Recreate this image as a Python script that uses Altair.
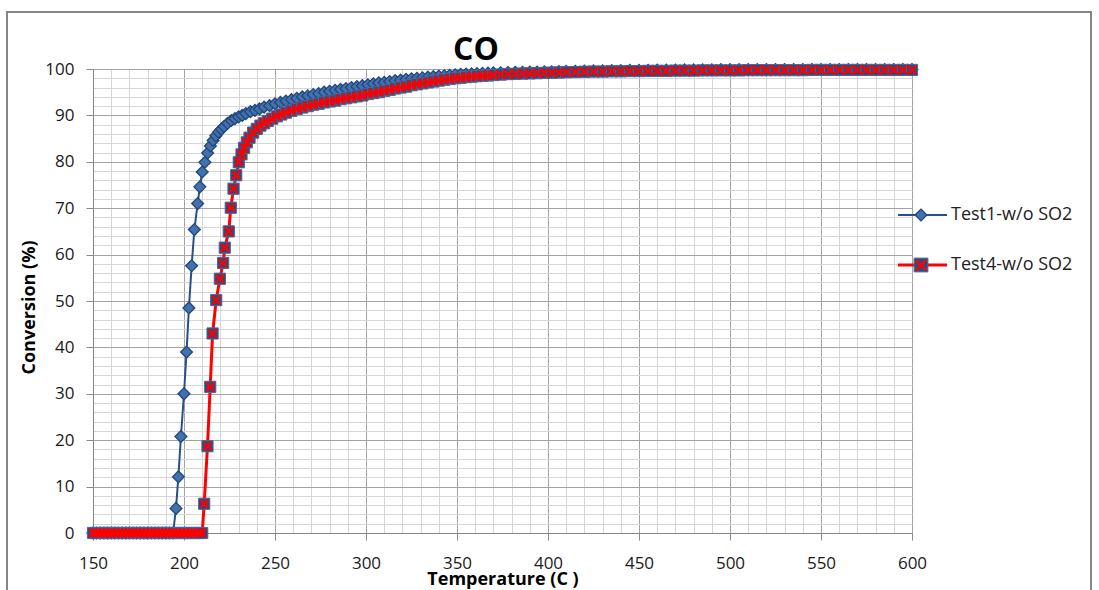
import altair as alt
import pandas as pd

SERIES = ["Test1-w/o SO2", "Test4-w/o SO2"]
TITLE = "CO"
X_TITLE = "Temperature (C )"
Y_TITLE = "Conversion (%)"

# ---- Test1 (blue diamonds) ----
T1 = [150, 152, 154, 156, 158, 160, 162, 164, 166, 168,
      170, 172, 174, 176, 178, 180, 182, 184, 186, 188,
      190, 192, 194,
      195.6, 196.9, 198.3, 200.0, 201.4, 202.7, 204.2, 205.7, 207.5, 208.7,
      210.0, 211.5, 213.0, 214.5, 216.0, 217.5, 219.0, 220.5, 222.0, 224.0,
      226.0, 228.0, 230.0, 232.0, 234.0, 236.5, 239.0, 241.5, 244.0, 247.0,
      250, 253, 256, 259, 262, 265, 268, 271, 274, 277,
      280, 283, 286, 289, 292, 295, 298, 301, 304, 307,
      310, 313, 316, 319, 322, 325, 328, 331, 334, 337,
      340, 343, 346, 349, 352, 355, 358, 361, 364, 367,
      370, 374, 378, 382, 386, 390, 394, 398, 402, 406,
      410, 415, 420, 425, 430, 435, 440, 445, 450, 455,
      460, 465, 470, 475, 480, 485, 490, 495, 500, 505,
      510, 515, 520, 525, 530, 535, 540, 545, 550, 555,
      560, 565, 570, 575, 580, 585, 590, 595, 600]
V1 = [0, 0, 0, 0, 0, 0, 0, 0, 0, 0,
      0, 0, 0, 0, 0, 0, 0, 0, 0, 0,
      0, 0, 0,
      5.3, 12.1, 20.8, 30.0, 39.0, 48.5, 57.6, 65.4, 71.0, 74.6,
      77.8, 79.9, 81.9, 83.4, 84.6, 85.6, 86.4, 87.0, 87.6, 88.3,
      88.9, 89.3, 89.7, 90.0, 90.4, 90.8, 91.1, 91.4, 91.8, 92.1,
      92.5, 92.8, 93.1, 93.4, 93.7, 94.0, 94.2, 94.5, 94.7, 95.0,
      95.2, 95.4, 95.6, 95.8, 96.0, 96.2, 96.4, 96.6, 96.8, 97.0,
      97.1, 97.3, 97.5, 97.6, 97.75, 97.9, 98.0, 98.1, 98.25, 98.35,
      98.45, 98.55, 98.65, 98.75, 98.85, 98.9, 98.95, 99.0, 99.05, 99.1,
      99.15, 99.2, 99.25, 99.3, 99.3, 99.35, 99.35, 99.4, 99.4, 99.45,
      99.5, 99.5, 99.55, 99.6, 99.6, 99.65, 99.65, 99.7, 99.7, 99.7,
      99.75, 99.75, 99.75, 99.8, 99.8, 99.8, 99.8, 99.85, 99.85, 99.85,
      99.85, 99.85, 99.85, 99.9, 99.9, 99.9, 99.9, 99.9, 99.9, 99.9,
      99.9, 99.9, 99.9, 99.9, 99.9, 99.9, 99.9, 99.9, 99.9]

# ---- Test4 (red line, squares with X) ----
T4 = [150, 152, 154, 156, 158, 160, 162, 164, 166, 168,
      170, 172, 174, 176, 178, 180, 182, 184, 186, 188,
      190, 192, 194, 196, 198, 200, 202, 204, 206, 208,
      210,
      211.1, 212.9, 214.4, 215.7, 217.7, 219.7, 221.5, 222.4, 224.6, 225.7,
      227.2, 228.7, 230.1, 231.6, 233.0, 234.5, 236.0, 238.0, 240.0, 242.0,
      244.0, 246.0, 248.5, 251.0, 253.5, 256.0, 259.0, 262.0, 265.0, 268.0,
      271, 274, 277, 280, 283, 286, 289, 292, 295, 298,
      301, 304, 307, 310, 313, 316, 319, 322, 325, 328,
      331, 334, 337, 340, 343, 346, 349, 352, 355, 358,
      361, 364, 367, 370, 374, 378, 382, 386, 390, 394,
      398, 402, 406, 410, 415, 420, 425, 430, 435, 440,
      445, 450, 455, 460, 465, 470, 475, 480, 485, 490,
      495, 500, 505, 510, 515, 520, 525, 530, 535, 540,
      545, 550, 555, 560, 565, 570, 575, 580, 585, 590, 595, 600]
V4 = [0, 0, 0, 0, 0, 0, 0, 0, 0, 0,
      0, 0, 0, 0, 0, 0, 0, 0, 0, 0,
      0, 0, 0, 0, 0, 0, 0, 0, 0, 0,
      0,
      6.3, 18.7, 31.5, 43.0, 50.2, 54.8, 58.2, 61.5, 65.0, 70.1,
      74.2, 77.1, 79.9, 81.6, 83.0, 84.2, 85.2, 86.3, 87.1, 87.8,
      88.3, 88.8, 89.3, 89.8, 90.2, 90.6, 91.0, 91.4, 91.7, 92.0,
      92.3, 92.5, 92.8, 93.0, 93.2, 93.5, 93.7, 93.9, 94.1, 94.3,
      94.6, 94.8, 95.0, 95.3, 95.5, 95.8, 96.0, 96.2, 96.5, 96.7,
      96.9, 97.1, 97.3, 97.5, 97.7, 97.85, 98.0, 98.1, 98.25, 98.35,
      98.45, 98.55, 98.6, 98.7, 98.8, 98.9, 98.95, 99.0, 99.05, 99.1,
      99.15, 99.2, 99.25, 99.3, 99.35, 99.4, 99.45, 99.45, 99.5, 99.5,
      99.55, 99.55, 99.6, 99.6, 99.6, 99.65, 99.65, 99.65, 99.7, 99.7,
      99.7, 99.7, 99.7, 99.75, 99.75, 99.75, 99.75, 99.75, 99.75, 99.75,
      99.8, 99.8, 99.8, 99.8, 99.8, 99.8, 99.8, 99.8, 99.8, 99.8, 99.8, 99.8]

X_TICKS = list(range(150, 601, 10))
Y_TICKS = list(range(0, 101, 2))

FONT = "Open Sans"
BLUE_LINE = "#28508A"
BLUE_FILL = "#4272AE"
BLUE_EDGE = "#22467A"
RED = "#FF0000"
SQ_FILL = "#2A4C80"
SQ_EDGE = "#46689C"
X_PATH = "M-0.75,-0.75L0.75,0.75M-0.75,0.75L0.75,-0.75"

df1 = pd.DataFrame({"T": T1, "V": V1, "s": SERIES[0]})
df4 = pd.DataFrame({"T": T4, "V": V4, "s": SERIES[1]})

W, H = 819, 464

xenc = alt.X("T:Q", scale=alt.Scale(domain=[150, 600], nice=False, zero=False),
             axis=alt.Axis(values=X_TICKS, tickCount=200, title=X_TITLE, format="d",
                           labelExpr="datum.value % 50 === 0 ? datum.label : ''",
                           grid=True,
                           gridColor={"condition": {"test": "datum.value % 50 === 0", "value": "#A3A3A3"}, "value": "#D6D6D6"},
                           tickColor={"condition": {"test": "datum.value % 50 === 0", "value": "#8A8A8A"}, "value": "transparent"},
                           tickSize=7, labelPadding=15, labelFontSize=17, labelFont=FONT,
                           labelColor="#1A1A1A", labelFlush=False, labelOverlap=False,
                           titleFont=FONT, titleFontSize=18, titleFontWeight="bold",
                           titleColor="#000000", titleY=37, titleBaseline="top",
                           domainColor="#868686"))
yenc = alt.Y("V:Q", scale=alt.Scale(domain=[0, 100], nice=False),
             axis=alt.Axis(values=Y_TICKS, tickCount=200, title=Y_TITLE, format="d",
                           labelExpr="datum.value % 10 === 0 ? datum.label : ''",
                           grid=True,
                           gridColor={"condition": {"test": "datum.value % 10 === 0", "value": "#A3A3A3"}, "value": "#D6D6D6"},
                           tickColor={"condition": {"test": "datum.value % 10 === 0", "value": "#8A8A8A"}, "value": "transparent"},
                           tickSize=7, labelPadding=12, labelFontSize=17, labelFont=FONT,
                           labelColor="#1A1A1A", labelFlush=False, labelOverlap=False,
                           titleFont=FONT, titleFontSize=18, titleFontWeight="bold",
                           titleColor="#000000", titleX=-64, titleY=238,
                           titleBaseline="middle", titleAngle=270,
                           domainColor="#868686"))

base1 = alt.Chart(df1).encode(x=xenc, y=yenc)
line1 = base1.mark_line(color=BLUE_LINE, strokeWidth=2)
pts1 = base1.mark_point(shape="diamond", size=140, filled=True, fill=BLUE_FILL,
                        stroke=BLUE_EDGE, strokeWidth=1.3, opacity=1)

base4 = alt.Chart(df4).encode(x=alt.X("T:Q"), y=alt.Y("V:Q"))
line4 = base4.mark_line(color=RED, strokeWidth=3)
sq4 = base4.mark_point(shape="square", size=125, filled=True, fill=SQ_FILL,
                       stroke=SQ_EDGE, strokeWidth=1, opacity=1)
x4 = base4.mark_point(shape=X_PATH, size=125, filled=False, stroke=RED,
                      strokeWidth=2.4, opacity=1)

# ---- title and legend (manual) ----
ttl = pd.DataFrame({"name": [TITLE]})
leg1 = pd.DataFrame({"name": [SERIES[0]]})
leg4 = pd.DataFrame({"name": [SERIES[1]]})
LX0, LX1, LXS, LXT = 805, 854, 828, 858
LY1, LY4 = 146, 196

title_txt = alt.Chart(ttl).mark_text(align="center", baseline="alphabetic", font=FONT,
                                     fontSize=32, fontWeight="bold", color="#000000").encode(
    x=alt.value(383), y=alt.value(-9), text="name:N")

l1_line = alt.Chart(leg1).mark_rule(color=BLUE_LINE, strokeWidth=2).encode(
    x=alt.value(LX0), x2=alt.value(LX1), y=alt.value(LY1))
l1_pt = alt.Chart(leg1).mark_point(shape="diamond", size=140, filled=True, fill=BLUE_FILL,
                                   stroke=BLUE_EDGE, strokeWidth=1.3, opacity=1).encode(
    x=alt.value(LXS), y=alt.value(LY1))
l1_txt = alt.Chart(leg1).mark_text(align="left", baseline="middle", font=FONT, fontSize=18,
                                   color="#222222").encode(
    x=alt.value(LXT), y=alt.value(LY1), text="name:N")

l4_line = alt.Chart(leg4).mark_rule(color=RED, strokeWidth=3).encode(
    x=alt.value(LX0), x2=alt.value(LX1), y=alt.value(LY4))
l4_sq = alt.Chart(leg4).mark_point(shape="square", size=190, filled=True, fill=SQ_FILL,
                                   stroke=SQ_EDGE, strokeWidth=1, opacity=1).encode(
    x=alt.value(LXS), y=alt.value(LY4))
l4_x = alt.Chart(leg4).mark_point(shape=X_PATH, size=190, filled=False, stroke=RED,
                                  strokeWidth=2.6, opacity=1).encode(
    x=alt.value(LXS), y=alt.value(LY4))
l4_txt = alt.Chart(leg4).mark_text(align="left", baseline="middle", font=FONT, fontSize=18,
                                   color="#222222").encode(
    x=alt.value(LXT), y=alt.value(LY4), text="name:N")

frame = alt.Chart(leg1).mark_rect(fillOpacity=0, stroke="#868686", strokeWidth=2).encode(
    x=alt.value(7 - 93), x2=alt.value(1091 - 93), y=alt.value(12 - 69), y2=alt.value(610 - 69))

chart = alt.layer(
    frame, line1, pts1, line4, sq4, x4, title_txt,
    l1_line, l1_pt, l1_txt, l4_line, l4_sq, l4_x, l4_txt
).properties(
    width=W, height=H,
    autosize=alt.AutoSizeParams(type="none"),
    padding={"left": 93, "top": 69, "right": 1099 - 93 - W, "bottom": 590 - 69 - H},
    background="white",
).configure_view(stroke=None)

chart.save("out.html", embed_options={"renderer": "svg", "actions": False})
